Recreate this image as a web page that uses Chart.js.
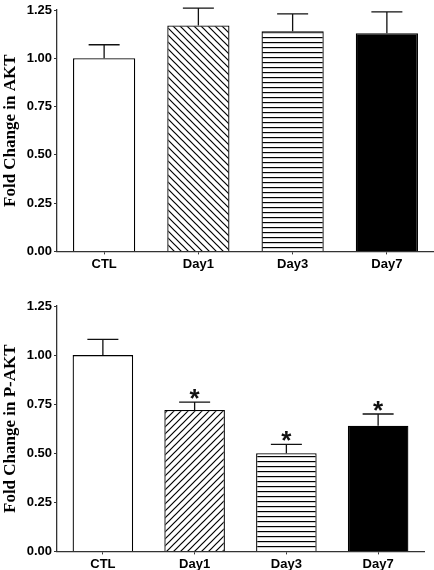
<!DOCTYPE html>
<html>
<head>
<meta charset="utf-8">
<script src="https://cdn.jsdelivr.net/npm/chart.js@4.4.1/dist/chart.umd.min.js"></script>
<style>
  html, body { margin: 0; padding: 0; background: #fff; }
  #wrap { width: 434px; height: 570px; position: relative; overflow: hidden; }
  .box { position: absolute; left: 0; width: 434px; }
  #boxTop { top: 0; height: 276px; }
  #boxBot { top: 284px; height: 290px; }
</style>
</head>
<body>
<div id="wrap">
  <div class="box" id="boxTop"><canvas id="chartAkt"></canvas></div>
  <div class="box" id="boxBot"><canvas id="chartPAkt"></canvas></div>
</div>
<script>
// datos
const categories = ['CTL', 'Day1', 'Day3', 'Day7'];
const aktMean = [1.00, 1.17, 1.14, 1.13];
const aktErr = [0.07, 0.09, 0.09, 0.11];
const pAktMean = [1.00, 0.72, 0.50, 0.64];
const pAktErr = [0.08, 0.04, 0.045, 0.06];
const pAktSig = [false, true, true, true];
const yMax = 1.25;
const yStep = 0.25;

const INK = '#111';
const AXIS = '#333';

// --- patrones de relleno ---
function makePattern(kind) {
  const c = document.createElement('canvas');
  const ctx = c.getContext('2d');
  if (kind === 'horiz') {
    c.width = 8; c.height = 5;
    ctx.fillStyle = '#fff';
    ctx.fillRect(0, 0, 8, 5);
    ctx.fillStyle = '#000';
    ctx.fillRect(0, 2, 8, 1.2);
  } else {
    const s = 7;
    c.width = s; c.height = s;
    ctx.fillStyle = '#fff';
    ctx.fillRect(0, 0, s, s);
    ctx.strokeStyle = '#000';
    ctx.lineWidth = 1.2;
    ctx.beginPath();
    if (kind === 'back') {
      ctx.moveTo(-1, -1); ctx.lineTo(s + 1, s + 1);
      ctx.moveTo(-1, s - 1); ctx.lineTo(1, s + 1);
      ctx.moveTo(s - 1, -1); ctx.lineTo(s + 1, 1);
    } else {
      ctx.moveTo(-1, s + 1); ctx.lineTo(s + 1, -1);
      ctx.moveTo(-1, 1); ctx.lineTo(1, -1);
      ctx.moveTo(s - 1, s + 1); ctx.lineTo(s + 1, s - 1);
    }
    ctx.stroke();
  }
  return ctx.createPattern(c, 'repeat');
}

// --- plugin: barras de error y asteriscos ---
const errorBarsPlugin = {
  id: 'errorBars',
  afterDatasetsDraw(chart, args, opts) {
    const ctx = chart.ctx;
    const meta = chart.getDatasetMeta(0);
    const yScale = chart.scales.y;
    ctx.save();
    ctx.strokeStyle = INK;
    ctx.lineWidth = 1.3;
    meta.data.forEach((bar, i) => {
      const mean = chart.data.datasets[0].data[i];
      const top = yScale.getPixelForValue(mean + opts.err[i]);
      const x = bar.x;
      ctx.beginPath();
      ctx.moveTo(x, bar.y);
      ctx.lineTo(x, top);
      ctx.moveTo(x - 15.5, top);
      ctx.lineTo(x + 15.5, top);
      ctx.stroke();
      if (opts.sig && opts.sig[i]) {
        ctx.fillStyle = INK;
        ctx.font = 'bold 26px "Liberation Sans", Arial, sans-serif';
        ctx.textAlign = 'center';
        ctx.textBaseline = 'alphabetic';
        ctx.fillText('*', x, top + 5);
      }
    });
    ctx.restore();
  }
};

function buildChart(canvasId, title, means, errs, sig, patterns, pad) {
  const ctx = document.getElementById(canvasId);
  return new Chart(ctx, {
    type: 'bar',
    data: {
      labels: categories,
      datasets: [{
        data: means,
        backgroundColor: patterns,
        borderColor: '#000',
        borderWidth: 1.3,
        borderSkipped: 'bottom',
        categoryPercentage: 1.0,
        barPercentage: 0.66
      }]
    },
    options: {
      responsive: true,
      maintainAspectRatio: false,
      animation: false,
      events: [],
      layout: { padding: pad },
      plugins: {
        legend: { display: false },
        tooltip: { enabled: false },
        errorBars: { err: errs, sig: sig }
      },
      scales: {
        x: {
          grid: { display: true, drawOnChartArea: false, offset: false, tickLength: 3, color: AXIS },
          border: { color: AXIS, width: 1.3 },
          ticks: {
            color: '#000',
            padding: 2,
            font: { family: '"Liberation Sans", Arial, sans-serif', size: 13, weight: 'bold' }
          }
        },
        y: {
          min: 0,
          max: yMax,
          grid: { display: true, drawOnChartArea: false, tickLength: 3, color: AXIS },
          border: { color: AXIS, width: 1.3 },
          ticks: {
            stepSize: yStep,
            color: '#000',
            padding: 2,
            font: { family: '"Liberation Sans", Arial, sans-serif', size: 13, weight: 'bold' },
            callback: v => v.toFixed(2)
          },
          title: {
            display: true,
            text: title,
            color: '#000',
            padding: { top: 0, bottom: 6 },
            font: { family: '"Liberation Serif", "Times New Roman", serif', size: 17, weight: 'bold' }
          },
          afterFit(scale) { scale.width = 57; }
        }
      }
    },
    plugins: [errorBarsPlugin]
  });
}

buildChart('chartAkt', 'Fold Change in AKT', aktMean, aktErr, null,
  ['#fff', makePattern('back'), makePattern('horiz'), '#000'],
  { top: 10, right: 0, left: 0, bottom: 2 });
buildChart('chartPAkt', 'Fold Change in P-AKT', pAktMean, pAktErr, pAktSig,
  ['#fff', makePattern('fwd'), makePattern('horiz'), '#000'],
  { top: 22, right: 10, left: 0, bottom: 0 });
</script>
</body>
</html>
